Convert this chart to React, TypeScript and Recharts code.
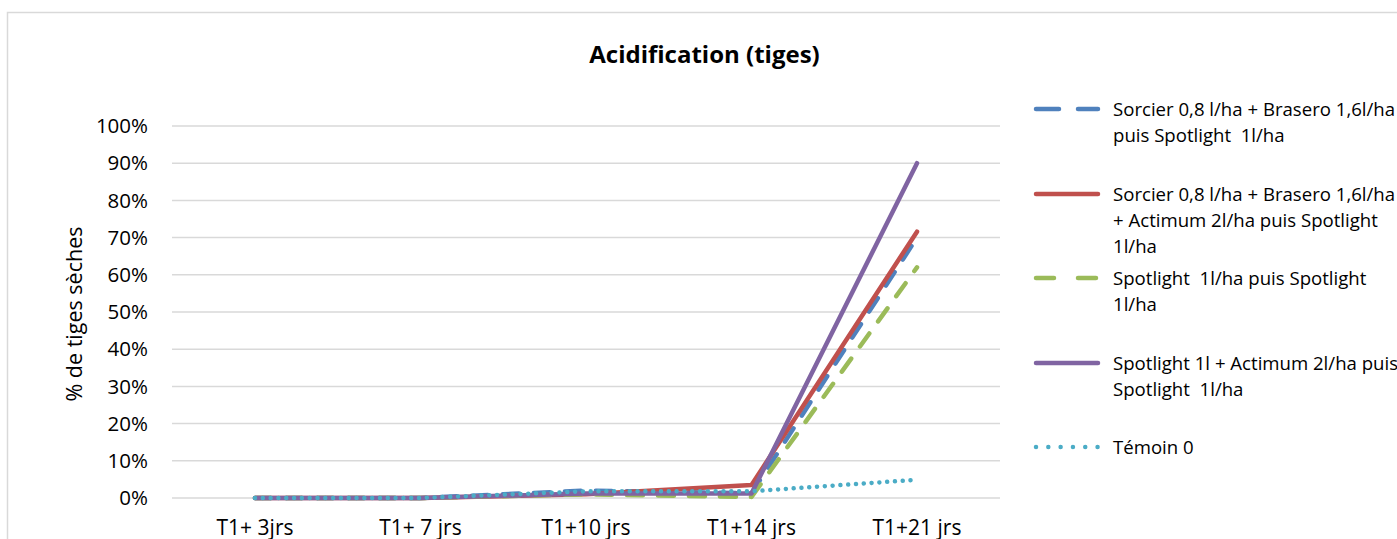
import { LineChart, Line, CartesianGrid, XAxis, YAxis, Legend, Customized } from 'recharts';

const periodes = ['T1+ 3jrs', 'T1+ 7 jrs', 'T1+10 jrs', 'T1+14 jrs', 'T1+21 jrs'];

// % de tiges sèches
const sorcierBrasero = [0, 0, 2, 1.3, 70];
const sorcierBraseroActimum = [0, 0, 1, 3.5, 71.6];
const spotlightSpotlight = [0, 0, 1, 0.3, 62];
const spotlightActimum = [0, 0, 1.2, 1.2, 90];
const temoin = [0, 0, 1.8, 1.8, 4.9];

const yTicks = [0, 10, 20, 30, 40, 50, 60, 70, 80, 90, 100];

const series = [
  { key: 's1', lines: ['Sorcier 0,8 l/ha + Brasero 1,6l/ha', 'puis Spotlight  1l/ha'], color: '#4F81BD', dash: '16 15', icon: '23 19', values: sorcierBrasero },
  { key: 's2', lines: ['Sorcier 0,8 l/ha + Brasero 1,6l/ha', '+ Actimum 2l/ha puis Spotlight', '1l/ha'], color: '#C0504D', dash: undefined, icon: undefined, values: sorcierBraseroActimum },
  { key: 's3', lines: ['Spotlight  1l/ha puis Spotlight', '1l/ha'], color: '#9BBB59', dash: '16 15', icon: '18 24', values: spotlightSpotlight },
  { key: 's4', lines: ['Spotlight 1l + Actimum 2l/ha puis', 'Spotlight  1l/ha'], color: '#8064A2', dash: undefined, icon: undefined, values: spotlightActimum },
  { key: 's5', lines: ['Témoin 0'], color: '#4BACC6', dash: '0.01 7.8', icon: '0.01 12.3', values: temoin },
];

const data = periodes.map((p, i) => {
  const row: Record<string, string | number> = { periode: p };
  series.forEach((s) => { row[s.key] = s.values[i]; });
  return row;
});

const font = '"Open Sans", sans-serif';

const LegendBox = () => (
  <div style={{ fontFamily: font, fontSize: 18.6, color: '#000' }}>
    {series.map((s) => (
      <div key={s.key} style={{ position: 'relative', height: 84.5 }}>
        <svg width={70} height={10} style={{ position: 'absolute', left: 0, top: 8 }}>
          <line x1={3} x2={65} y1={5} y2={5} stroke={s.color} strokeWidth={4.5}
            strokeDasharray={s.icon} strokeLinecap="round" />
        </svg>
        <div style={{ position: 'absolute', left: 80, top: 0, whiteSpace: 'pre', lineHeight: '26px' }}>
          {s.lines.map((l) => <div key={l}>{l}</div>)}
        </div>
      </div>
    ))}
  </div>
);

export default function App() {
  return (
    <div style={{ position: 'absolute', left: 0, top: 0, width: 1397, height: 539, overflow: 'hidden', background: '#fff' }}>
      <LineChart width={1397} height={539} data={data} margin={{ top: 126, right: 397, bottom: 11, left: 112 }}>
        <Customized component={() => (
          <g>
            <rect x={7.5} y={12.5} width={1420} height={560} fill="none" stroke="#d9d9d9" strokeWidth={1.5} />
            <text x={704.5} y={63} textAnchor="middle" fontFamily={font} fontSize={24} fontWeight="bold" fill="#000">
              Acidification (tiges)
            </text>
            <text x={0} y={0} transform="translate(82 314) rotate(-90)" textAnchor="middle" fontFamily={font} fontSize={21.5} fill="#000">
              % de tiges sèches
            </text>
          </g>
        )} />
        <CartesianGrid vertical={false} stroke="#d9d9d9" strokeWidth={1.5} />
        <XAxis dataKey="periode" axisLine={false} tickLine={false} height={30} tickMargin={16}
          padding={{ left: 83, right: 83 }} interval={0}
          tick={{ fontFamily: font, fontSize: 21, fill: '#000' }} />
        <YAxis domain={[0, 100]} ticks={yTicks} width={60} axisLine={false} tickLine={false} tickMargin={18}
          tickFormatter={(v: number) => `${v}%`} tick={{ fontFamily: font, fontSize: 20.5, fill: '#000' }} />
        {series.map((s) => (
          <Line key={s.key} dataKey={s.key} name={s.lines.join(' ')} stroke={s.color} strokeWidth={4.5}
            strokeDasharray={s.dash} strokeLinecap="round" strokeLinejoin="round"
            dot={false} activeDot={false} isAnimationActive={false} />
        ))}
        <Legend layout="horizontal" verticalAlign="middle" align="center" content={LegendBox}
          wrapperStyle={{ left: 1033, top: 96, width: 420, height: 430 }} />
      </LineChart>
    </div>
  );
}
